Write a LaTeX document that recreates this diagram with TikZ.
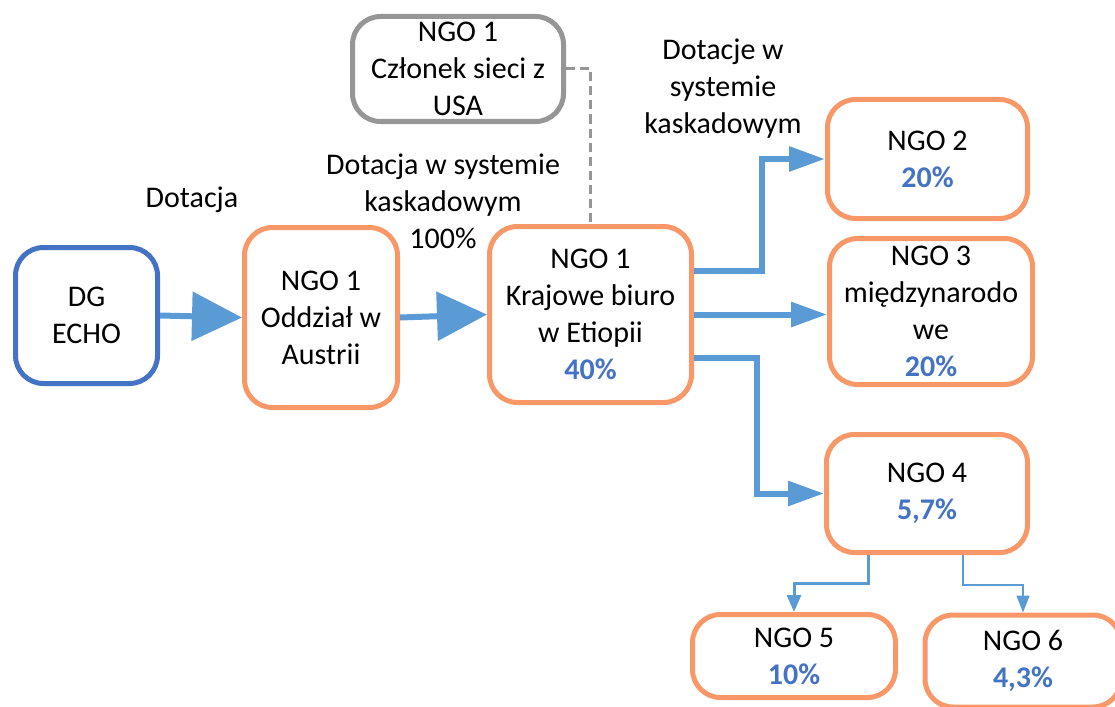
\documentclass[tikz,border=0pt]{standalone}
\usepackage{fontspec}
\setmainfont{Carlito}
\usetikzlibrary{arrows.meta}
\definecolor{ngoorange}{RGB}{248,152,104}
\definecolor{echoblue}{RGB}{68,114,196}
\definecolor{flowblue}{RGB}{91,155,213}
\definecolor{boxgray}{RGB}{150,150,150}
\newcommand{\pctval}[1]{\textcolor{echoblue}{\textbf{#1}}}

\begin{document}
\begin{tikzpicture}[x=1pt, y=-1pt,
    every node/.style={font=\fontsize{30}{37}\selectfont, align=center},
    box/.style={draw=ngoorange, line width=5pt, rounded corners=28pt, inner sep=0pt},
    flow/.style={draw=flowblue, line width=6pt},
    bigtip/.style={-{Triangle[length=50pt, width=48pt]}},
    midtip/.style={-{Triangle[length=36pt, width=24pt]}}]
    \useasboundingbox (0,0) rectangle (1115,706);

    % Boxes
    \node[box, draw=echoblue, minimum width=142pt, minimum height=136pt] (echo) at (86.5,315.5) {DG\\ECHO};
    \node[box, minimum width=153pt, minimum height=180pt] (austria) at (321,317.5) {NGO 1\\Oddział w\\Austrii};
    \node[box, minimum width=202pt, minimum height=176pt] (ethiopia) at (590.5,314.5) {NGO 1\\Krajowe biuro\\w Etiopii\\\pctval{40\%}};
    \node[box, draw=boxgray, minimum width=211pt, minimum height=105pt] (usa) at (458,69) {NGO 1\\Członek sieci z\\USA};
    \node[box, minimum width=200pt, minimum height=119pt] (ngo2) at (927.5,159) {NGO 2\\\pctval{20\%}};
    \node[box, minimum width=203pt, minimum height=146pt] (ngo3) at (931,311.5) {NGO 3\\międzynarodo\\we\\\pctval{20\%}};
    \node[box, minimum width=201pt, minimum height=118pt] (ngo4) at (927,493.5) {NGO 4\\\pctval{5,7\%}};
    \node[box, minimum width=203pt, minimum height=83pt] (ngo5) at (794,656) {NGO 5\\\pctval{10\%}};
    \node[box, minimum width=196pt, minimum height=92pt] (ngo6) at (1023,661) {NGO 6\\\pctval{4,3\%}};

    % Labels
    \node (lgrant) at (192,200) {Dotacja};
    \node (lcascade) at (443,201) {Dotacja w systemie\\kaskadowym\\100\%};
    \node (lcascades) at (723,89) {Dotacje w\\systemie\\kaskadowym};

    % Arrows
    \draw[flow, bigtip] (echo.east) -- (austria.west);
    \draw[flow, bigtip] (austria.east) -- (ethiopia.west);
    \draw[flow, midtip] ([yshift=44pt]ethiopia.east) -- ++(68,0) |- (ngo2.west);
    \draw[flow, midtip] (ethiopia.east) -- (ethiopia.east -| ngo3.west);
    \draw[flow, midtip] ([yshift=-43pt]ethiopia.east) -- ++(63,0) |- (ngo4.west);
    \draw[flow, line width=3pt, -{Triangle[length=17pt, width=14pt]}] ([xshift=-59pt]ngo4.south) -- ++(0,28) -| (ngo5.north);
    \draw[flow, line width=1.5pt, -{Triangle[length=17pt, width=13pt]}] ([xshift=36pt]ngo4.south) -- ++(0,30) -| (ngo6.north);
    \draw[boxgray, line width=3pt, dash pattern=on 9pt off 5pt] (usa.east) -| (ethiopia.north);
\end{tikzpicture}
\end{document}
